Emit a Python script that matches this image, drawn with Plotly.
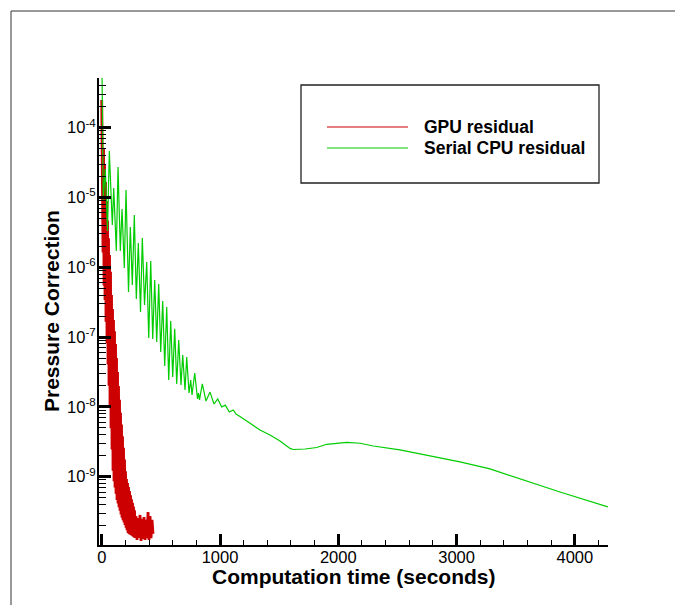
import plotly.graph_objects as go

# ---------------- data ----------------
gpu_time = [0, 2.5, 6.8, 11.0, 15.2, 19.4, 23.7, 27.9, 32.1, 36.3, 40.6, 44.8, 49.0,
            53.3, 57.5, 61.7, 65.9, 70.2, 74.4, 78.6, 82.8, 87.1, 91.3, 95.5, 99.7,
            104.0, 108.2, 112.4, 116.7, 120.9, 125.1, 129.3, 133.6, 137.8, 142.0, 146.2,
            150.5, 154.7, 158.9, 163.1, 167.4, 171.6, 175.8, 180.0, 184.3, 188.5, 192.7,
            197.0, 201.2, 205.4, 209.6, 213.9, 218.1, 222.3, 226.5, 230.8, 235.0, 239.2,
            243.5, 247.7, 251.9, 256.1, 260.4, 264.6, 268.8, 273.0, 277.3, 281.5,
            289.9, 298.4, 306.8, 315.3, 323.7, 332.2, 340.7, 349.1, 357.6, 366.0,
            374.5, 382.9, 391.4, 399.8, 408.3, 416.7, 425.2, 433.6]
gpu_residual = [2.5e-4, 1.89e-5, 1.26e-4, 1.63e-6, 5.07e-5, 5.50e-7, 2.94e-5, 3.40e-7,
                1.67e-5, 1.66e-7, 8.87e-6, 8.13e-8, 4.70e-6, 4.04e-8, 2.60e-6, 2.01e-8,
                1.50e-6, 9.97e-9, 8.65e-7, 4.96e-9, 4.01e-7, 2.46e-9, 2.53e-7, 1.22e-9,
                1.75e-7, 8.57e-10, 1.21e-7, 6.98e-10, 7.96e-8, 5.69e-10, 5.01e-8, 4.63e-10,
                3.16e-8, 4.12e-10, 1.99e-8, 3.66e-10, 1.26e-8, 3.24e-10, 8.23e-9, 2.87e-10,
                5.59e-9, 2.59e-10, 3.80e-9, 2.38e-10, 2.59e-9, 2.20e-10, 1.76e-9, 2.03e-10,
                1.20e-9, 1.86e-10, 9.27e-10, 1.71e-10, 8.10e-10, 1.56e-10, 7.09e-10, 1.52e-10,
                6.22e-10, 1.49e-10, 5.43e-10, 1.46e-10, 4.76e-10, 1.42e-10, 4.22e-10, 1.39e-10,
                3.74e-10, 1.36e-10, 3.31e-10, 1.32e-10,
                2.73e-10, 1.24e-10, 2.56e-10, 1.32e-10, 2.83e-10, 1.20e-10, 2.48e-10, 1.28e-10,
                2.64e-10, 1.24e-10, 2.40e-10, 1.32e-10, 3.12e-10, 1.24e-10, 2.73e-10, 1.32e-10,
                2.40e-10, 1.51e-10]

cpu_time = [3, 12.7, 30.4, 49.0, 64.2, 89.6, 101.4, 123.4, 137.8, 157.2, 171.6, 191.0,
            205.4, 226.5, 241.8, 258.7, 275.6, 292.5, 309.4, 328.0, 343.2, 361.8, 380.4,
            397.3, 414.2, 431.1, 448.0, 464.9, 481.8, 498.7, 515.6, 532.5, 549.4, 566.4,
            583.3, 600.2, 617.1, 634.0, 650.9, 670.3, 684.7, 704.1, 718.5, 738.0, 752.3,
            763.3, 786.1, 809.8, 818.3, 826.7, 850.4, 881.7, 915.5, 949.3, 980.5, 1014.4,
            1044.8, 1078.6, 1112.4, 1135.2, 1169.0, 1225.7, 1281.5, 1338.1, 1422.6, 1507.2,
            1591.7, 1619.6, 1718.5, 1817.4, 1901.9, 2071.0, 2183.4, 2295.8, 2521.5, 2775.1,
            3028.7, 3282.3, 3535.9, 3874.0, 4279.7]
cpu_residual = [5.15e-4, 9.2e-6, 2.56e-5, 3.31e-6, 4.64e-5, 4.04e-6, 1.37e-5, 1.71e-6,
                2.74e-5, 1.71e-6, 6.84e-6, 9.77e-7, 1.28e-5, 4.43e-7, 3.78e-6, 5.57e-7,
                5.61e-6, 3.52e-7, 2.23e-6, 2.29e-7, 2.63e-6, 2.88e-7, 1.19e-6, 9.7e-8,
                1.23e-6, 9.4e-8, 6.56e-7, 8.5e-8, 5.75e-7, 6.12e-8, 3.29e-7, 3.86e-8,
                2.70e-7, 2.43e-8, 1.70e-7, 2.69e-8, 1.31e-7, 2.13e-8, 9.08e-8, 2.06e-8,
                5.55e-8, 1.75e-8, 5.19e-8, 1.58e-8, 2.43e-8, 1.48e-8, 3.06e-8, 1.30e-8,
                1.58e-8, 1.26e-8, 2.13e-8, 1.21e-8, 1.63e-8, 1.10e-8, 1.30e-8, 9.97e-9,
                1.06e-8, 8.45e-9, 9.03e-9, 7.91e-9, 7.28e-9, 6.28e-9, 5.50e-9, 4.67e-9,
                3.96e-9, 3.25e-9, 2.54e-9, 2.45e-9, 2.49e-9, 2.62e-9, 2.91e-9, 3.11e-9,
                3.01e-9, 2.75e-9, 2.42e-9, 2.01e-9, 1.63e-9, 1.29e-9, 9.27e-10, 6.04e-10,
                3.68e-10]

series_names = ["GPU residual", "Serial CPU residual"]
series_colors = ["#CC0000", "#00CC00"]
x_title = "Computation time (seconds)"
y_title = "Pressure Correction"

x_tick_values = [0, 1000, 2000, 3000, 4000]
x_tick_labels = ["0", "1000", "2000", "3000", "4000"]
y_tick_values = [1e-9, 1e-8, 1e-7, 1e-6, 1e-5, 1e-4]
y_tick_labels = ["10<sup>-9</sup>", "10<sup>-8</sup>", "10<sup>-7</sup>",
                 "10<sup>-6</sup>", "10<sup>-5</sup>", "10<sup>-4</sup>"]
y_minor_values = [m * 10.0 ** k for k in range(-10, -3) for m in range(2, 10)]

# ---------------- figure ----------------
W, H = 675, 605
ML, MR, MT, MB = 99, 67, 78, 60
pw, ph = W - ML - MR, H - MT - MB


def px_x(p):
    return (p - ML) / pw


def px_y(p):
    return (H - MB - p) / ph


fig = go.Figure()
fig.add_trace(go.Scatter(x=gpu_time, y=gpu_residual, mode="lines", name=series_names[0],
                         line=dict(color=series_colors[0], width=2.8), showlegend=False))
fig.add_trace(go.Scatter(x=cpu_time, y=cpu_residual, mode="lines", name=series_names[1],
                         line=dict(color=series_colors[1], width=1.2), showlegend=False))

font_family = "Liberation Sans, Arial, Helvetica, sans-serif"

fig.update_layout(
    width=W, height=H,
    margin=dict(l=ML, r=MR, t=MT, b=MB),
    paper_bgcolor="white", plot_bgcolor="white",
    font=dict(family=font_family, color="black"),
    showlegend=False,
)

fig.update_xaxes(
    range=[-23, 4280], showgrid=False, zeroline=False,
    showline=True, linecolor="black", linewidth=2,
    ticks="inside", ticklen=11, tickwidth=2.5, tickcolor="black",
    tickmode="array", tickvals=x_tick_values, ticktext=x_tick_labels,
    tickfont=dict(size=16.5, family=font_family, color="black"),
    ticklabelstandoff=-4,
    minor=dict(ticks="inside", ticklen=5, tickwidth=1.2, tickcolor="black",
               dtick=200, tick0=0, showgrid=False),
)

fig.update_yaxes(
    type="log", range=[-9.979, -3.288], showgrid=False, zeroline=False,
    showline=True, linecolor="black", linewidth=2,
    ticks="inside", ticklen=12, tickwidth=2.5, tickcolor="black",
    tickmode="array", tickvals=y_tick_values, ticktext=y_tick_labels,
    tickfont=dict(size=16.5, family=font_family, color="black"),
    ticklabelstandoff=-2,
    minor=dict(ticks="inside", ticklen=7, tickwidth=1.2, tickcolor="black",
               tickmode="array", tickvals=y_minor_values, showgrid=False),
)

# axis titles
fig.add_annotation(xref="paper", yref="paper", x=px_x(353.5), y=px_y(576),
                   text="<b>" + x_title + "</b>", showarrow=False,
                   xanchor="center", yanchor="middle",
                   font=dict(size=21, family=font_family, color="black"))
fig.add_annotation(xref="paper", yref="paper", x=px_x(51), y=px_y(311),
                   text="<b>" + y_title + "</b>", showarrow=False, textangle=-90,
                   xanchor="center", yanchor="middle",
                   font=dict(size=21, family=font_family, color="black"))

# outer frame
fig.add_shape(type="rect", xref="paper", yref="paper",
              x0=px_x(11), x1=px_x(690), y0=px_y(620), y1=px_y(11),
              line=dict(color="#333333", width=1), fillcolor="rgba(0,0,0,0)", layer="below")

# legend box drawn manually (long line samples as in the reference)
fig.add_shape(type="rect", xref="paper", yref="paper",
              x0=px_x(301), x1=px_x(599), y0=px_y(183), y1=px_y(85),
              line=dict(color="#222222", width=1.3), fillcolor="white")
legend_rows = [127, 148]
for name, color, row in zip(series_names, series_colors, legend_rows):
    fig.add_shape(type="line", xref="paper", yref="paper",
                  x0=px_x(327), x1=px_x(408), y0=px_y(row), y1=px_y(row),
                  line=dict(color=color, width=1.2))
    fig.add_annotation(xref="paper", yref="paper", x=px_x(422), y=px_y(row),
                       text="<b>" + name + "</b>", showarrow=False,
                       xanchor="left", yanchor="middle",
                       font=dict(size=17.5, family=font_family, color="black"))

fig.write_html("out.html")
